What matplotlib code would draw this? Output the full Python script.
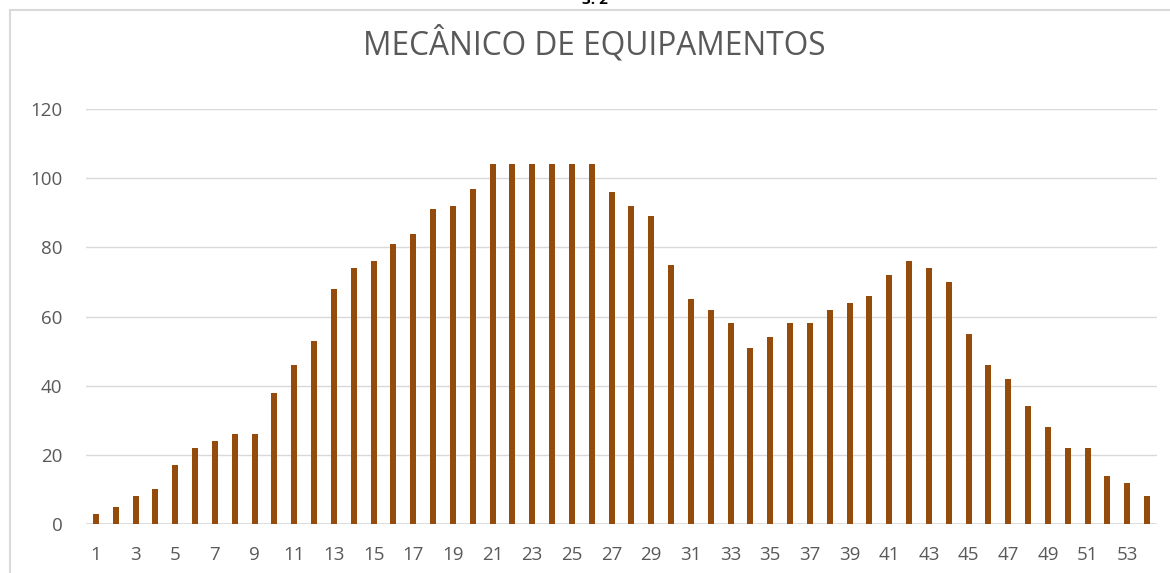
import matplotlib
matplotlib.use("Agg")
import matplotlib.pyplot as plt
from matplotlib.lines import Line2D

categories = [str(i) for i in range(1, 55)]
values = [3, 5, 8, 10, 17, 22, 24, 26, 26, 38,
          46, 53, 68, 74, 76, 81, 84, 91, 92, 97,
          104, 104, 104, 104, 104, 104, 96, 92, 89, 75,
          65, 62, 58, 51, 54, 58, 58, 62, 64, 66,
          72, 76, 74, 70, 55, 46, 42, 34, 28, 22,
          22, 14, 12, 8]
y_ticks = [0, 20, 40, 60, 80, 100, 120]
title = "MECÂNICO DE EQUIPAMENTOS"

BAR = "#944B0C"
TXT = "#595959"
GRID = "#D9D9D9"

plt.rcParams['font.family'] = ['Open Sans', 'DejaVu Sans']

fig = plt.figure(figsize=(11.70, 5.73), dpi=100)
ax = fig.add_axes([86/1170, 1-524/573, (1157-86)/1170, (524-109)/573])

x = list(range(len(categories)))
ax.bar(x, values, width=0.31, color=BAR, zorder=3)

ax.set_xlim(-0.5, len(categories) - 0.5)
ax.set_ylim(0, 120)
ax.set_yticks(y_ticks)
ax.set_yticklabels([str(t) for t in y_ticks])
odd = x[::2]
ax.set_xticks(odd)
ax.set_xticklabels([categories[i] for i in odd])
ax.tick_params(axis='y', length=0, pad=17, labelsize=13.5, labelcolor=TXT)
ax.tick_params(axis='x', length=0, pad=15.5, labelsize=13.5, labelcolor=TXT)
ax.grid(axis='y', color=GRID, linewidth=1.0, zorder=0)
for s in ax.spines.values():
    s.set_visible(False)
ax.axhline(0, color=GRID, linewidth=1.2, zorder=2)

fig.text(594/1170, 1-44/573, title, ha='center', va='center', fontsize=22.8, color=TXT)
fig.text(595/1170, 1.0, "3. 2", ha='center', va='center', fontsize=11, fontweight='bold', color='black')

fig.add_artist(Line2D([10/1170, 1.0], [1-9.5/573, 1-9.5/573], color=GRID, linewidth=1.5))
fig.add_artist(Line2D([10/1170, 10/1170], [0, 1-9.5/573], color=GRID, linewidth=1.5))

fig.savefig("out.png", dpi=100, facecolor='white')
